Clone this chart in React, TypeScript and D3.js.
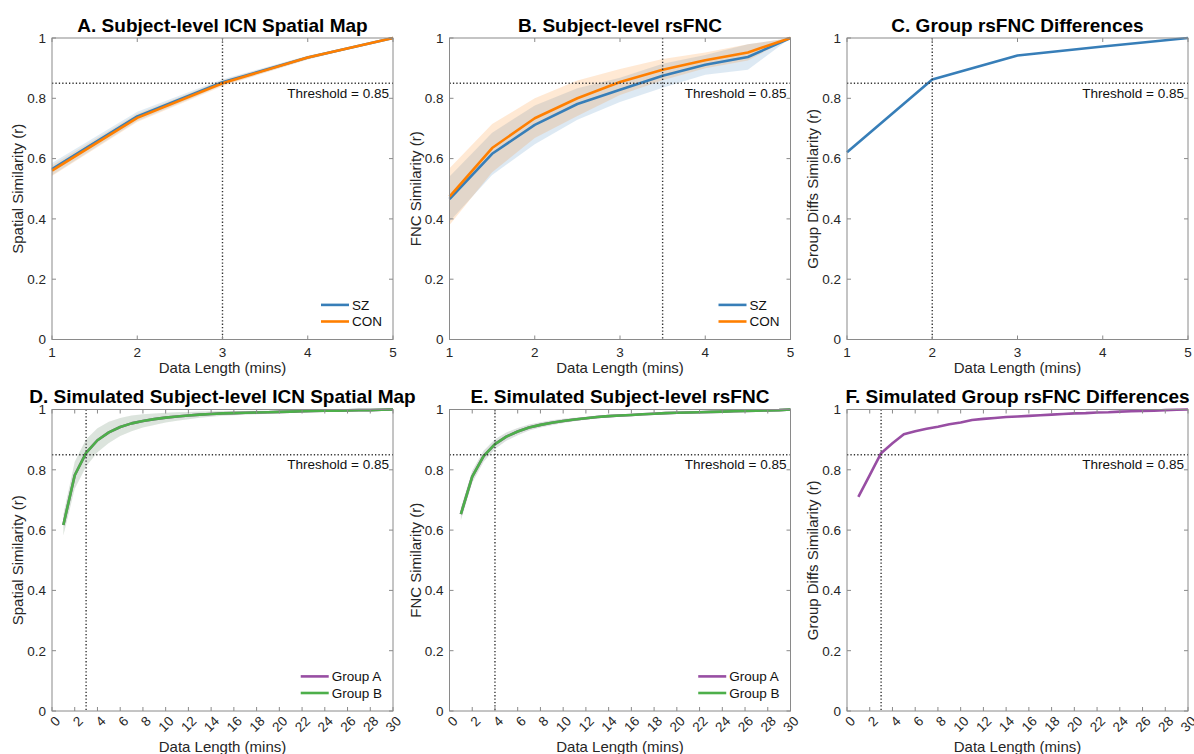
import React from "react";
import * as d3 from "d3";

// ---------- data ----------
const topX = [1, 2, 3, 4, 5];
const topTicks = [1, 2, 3, 4, 5];
const bX = [1, 1.5, 2, 2.5, 3, 3.5, 4, 4.5, 5];
const yTicks = [0, 0.2, 0.4, 0.6, 0.8, 1];
const simX = [1, 2, 3, 4, 5, 6, 7, 8, 9, 10, 11, 12, 13, 14, 15, 16, 17, 18, 19, 20, 21, 22, 23, 24, 25, 26, 27, 28, 29, 30];
const simTicks = [0, 2, 4, 6, 8, 10, 12, 14, 16, 18, 20, 22, 24, 26, 28, 30];

const aSZ = [0.565, 0.74, 0.853, 0.935, 1.0];
const aSZsd = [0.02, 0.015, 0.01, 0.006, 0];
const aCON = [0.56, 0.735, 0.85, 0.935, 1.0];
const aCONsd = [0.018, 0.014, 0.01, 0.006, 0];

const bSZ = [0.466, 0.616, 0.712, 0.781, 0.828, 0.875, 0.911, 0.937, 1.0];
const bSZsd = [0.075, 0.07, 0.064, 0.052, 0.04, 0.04, 0.033, 0.042, 0];
const bCON = [0.474, 0.635, 0.734, 0.8, 0.854, 0.895, 0.926, 0.952, 1.0];
const bCONsd = [0.094, 0.08, 0.066, 0.059, 0.043, 0.035, 0.026, 0.027, 0];

const cDiff = [0.621, 0.862, 0.942, 0.972, 1.0];

const dGroupA = [0.617, 0.782, 0.856, 0.898, 0.924, 0.942, 0.954, 0.962, 0.968, 0.973, 0.977, 0.98, 0.983, 0.985, 0.987, 0.988, 0.989, 0.99, 0.991, 0.992, 0.993, 0.994, 0.995, 0.996, 0.996, 0.997, 0.998, 0.998, 0.999, 1.0];
const dGroupB = [0.617, 0.782, 0.856, 0.898, 0.924, 0.942, 0.954, 0.962, 0.968, 0.973, 0.977, 0.98, 0.983, 0.985, 0.987, 0.988, 0.989, 0.99, 0.991, 0.992, 0.993, 0.994, 0.995, 0.996, 0.996, 0.997, 0.998, 0.998, 0.999, 1.0];
const dSD = [0.035, 0.045, 0.045, 0.04, 0.035, 0.03, 0.026, 0.022, 0.019, 0.016, 0.014, 0.012, 0.01, 0.009, 0.008, 0.007, 0.006, 0.006, 0.005, 0.005, 0.004, 0.004, 0.003, 0.003, 0.002, 0.002, 0.002, 0.001, 0.001, 0];

const eGroupA = [0.653, 0.777, 0.845, 0.885, 0.91, 0.927, 0.94, 0.949, 0.956, 0.962, 0.967, 0.971, 0.975, 0.978, 0.98, 0.982, 0.984, 0.986, 0.988, 0.989, 0.99, 0.991, 0.992, 0.993, 0.994, 0.995, 0.996, 0.997, 0.998, 1.0];
const eGroupB = [0.653, 0.777, 0.845, 0.885, 0.91, 0.927, 0.94, 0.949, 0.956, 0.962, 0.967, 0.971, 0.975, 0.978, 0.98, 0.982, 0.984, 0.986, 0.988, 0.989, 0.99, 0.991, 0.992, 0.993, 0.994, 0.995, 0.996, 0.997, 0.998, 1.0];
const eSD = [0.02, 0.02, 0.018, 0.016, 0.014, 0.012, 0.01, 0.009, 0.008, 0.007, 0.006, 0.005, 0.005, 0.004, 0.004, 0.003, 0.003, 0.003, 0.002, 0.002, 0.002, 0.002, 0.001, 0.001, 0.001, 0.001, 0.001, 0.001, 0, 0];

const fDiff = [0.71, 0.782, 0.855, 0.888, 0.918, 0.928, 0.936, 0.943, 0.951, 0.957, 0.965, 0.969, 0.972, 0.975, 0.977, 0.979, 0.981, 0.983, 0.985, 0.987, 0.988, 0.99, 0.991, 0.993, 0.994, 0.995, 0.996, 0.998, 0.999, 1.0];

const THRESH = 0.85;
const BLUE = "#377eb8";
const ORANGE = "#ff7f00";
const GREEN = "#4daf4a";
const PURPLE = "#984ea3";

const FONT = "'Liberation Sans', Arial, Helvetica, sans-serif";
const TXT = "#262626";
const AX = "#8a8a8a";

type Series = { x: number[]; y: number[]; sd?: number[]; color: string; op?: number };

let measureCtx: CanvasRenderingContext2D | null = null;
function textWidth(s: string, size: number) {
  if (!measureCtx) {
    const c = document.createElement("canvas");
    measureCtx = c.getContext("2d");
  }
  if (!measureCtx) return s.length * size * 0.6;
  measureCtx.font = `${size}px ${FONT}`;
  return measureCtx.measureText(s).width;
}

function Panel(props: {
  left: number;
  top: number;
  width: number;
  height: number;
  title: string;
  ylabel: string;
  xdomain: [number, number];
  xticks: number[];
  rotated: boolean;
  series: Series[];
  vline: number;
  legend?: { label: string; color: string }[];
}) {
  const { left, top, width, height, title, ylabel, xdomain, xticks, rotated, series, vline, legend } = props;
  const x = d3.scaleLinear().domain(xdomain).range([left, left + width]);
  const y = d3.scaleLinear().domain([0, 1]).range([top + height, top]);
  const bottom = top + height;
  const right = left + width;
  const tl = 4;
  const TICKF = 13.5;

  const legW = legend ? 28 + 3 + Math.max(...legend.map((l) => textWidth(l.label, 13.5))) : 0;
  const legX = right - 11 - legW;
  const legBottomY = bottom - 18;

  return (
    <g>
      {/* bands */}
      {series.map((s, k) =>
        s.sd ? (
          <path
            key={"b" + k}
            d={
              d3
                .area<number>()
                .x((_, i) => x(s.x[i]))
                .y0((v, i) => y(v - (s.sd as number[])[i]))
                .y1((v, i) => y(Math.min(1, v + (s.sd as number[])[i])))(s.y) || ""
            }
            fill={s.color}
            fillOpacity={s.op ?? 0.2}
            stroke="none"
          />
        ) : null
      )}
      {/* lines */}
      {series.map((s, k) => (
        <path
          key={"l" + k}
          d={
            d3
              .line<number>()
              .x((_, i) => x(s.x[i]))
              .y((v) => y(v))(s.y) || ""
          }
          fill="none"
          stroke={s.color}
          strokeWidth={2.6}
          strokeLinejoin="round"
        />
      ))}
      {/* threshold lines */}
      <line x1={left} x2={right} y1={y(THRESH)} y2={y(THRESH)} stroke="#333" strokeWidth={1.4} strokeDasharray="1.3,2.1" />
      <line x1={x(vline)} x2={x(vline)} y1={top} y2={bottom} stroke="#333" strokeWidth={1.4} strokeDasharray="1.3,2.1" />
      <text x={right - 4} y={y(THRESH) + 14.5} textAnchor="end" fontSize={13.5} fill="#111" fontFamily={FONT}>
        Threshold = 0.85
      </text>
      {/* box */}
      <rect x={left} y={top} width={width} height={height} fill="none" stroke={AX} strokeWidth={1} />
      {/* x ticks */}
      {xticks.map((t) => (
        <g key={"xt" + t}>
          <line x1={x(t)} x2={x(t)} y1={bottom} y2={bottom - tl} stroke={AX} />
          <line x1={x(t)} x2={x(t)} y1={top} y2={top + tl} stroke={AX} />
          {rotated ? (
            <text
              transform={`translate(${x(t) + 9},${bottom + 11}) rotate(-45)`}
              textAnchor="end"
              fontSize={TICKF}
              fill={TXT}
              fontFamily={FONT}
            >
              {String(t)}
            </text>
          ) : (
            <text x={x(t)} y={bottom + 17} textAnchor="middle" fontSize={TICKF} fill={TXT} fontFamily={FONT}>
              {String(t)}
            </text>
          )}
        </g>
      ))}
      {/* y ticks */}
      {yTicks.map((t) => (
        <g key={"yt" + t}>
          <line x1={left} x2={left + tl} y1={y(t)} y2={y(t)} stroke={AX} />
          <line x1={right} x2={right - tl} y1={y(t)} y2={y(t)} stroke={AX} />
          <text x={left - 6} y={y(t)} dy="0.36em" textAnchor="end" fontSize={TICKF} fill={TXT} fontFamily={FONT}>
            {String(t)}
          </text>
        </g>
      ))}
      {/* labels */}
      <text
        x={(left + right) / 2}
        y={rotated ? bottom + 41 : bottom + 33}
        textAnchor="middle"
        fontSize={15}
        fill={TXT}
        fontFamily={FONT}
      >
        Data Length (mins)
      </text>
      <text
        transform={`translate(${left - 34},${(top + bottom) / 2}) rotate(-90)`}
        textAnchor="middle"
        dy="0.35em"
        fontSize={15}
        fill={TXT}
        fontFamily={FONT}
      >
        {ylabel}
      </text>
      <text x={(left + right) / 2} y={top - 6.5} textAnchor="middle" fontSize={19} fontWeight="bold" fill="#000" fontFamily={FONT}>
        {title}
      </text>
      {/* legend */}
      {legend
        ? legend.map((l, i) => {
            const ly = legBottomY - (legend.length - 1 - i) * 16.6;
            return (
              <g key={"lg" + i}>
                <line x1={legX} x2={legX + 28} y1={ly} y2={ly} stroke={l.color} strokeWidth={2.6} />
                <text x={legX + 31} y={ly} dy="0.36em" fontSize={13.5} fill="#111" fontFamily={FONT}>
                  {l.label}
                </text>
              </g>
            );
          })
        : null}
    </g>
  );
}

export default function App() {
  const lefts = [52, 449.5, 847];
  const W = 341;
  const H = 301.5;
  const tops = [38, 409.5];
  return (
    <div style={{ position: "absolute", left: 0, top: 0, width: 1194, height: 754, background: "#fff" }}>
      <svg width={1194} height={754} style={{ display: "block" }}>
        <rect width={1194} height={754} fill="#fff" />
        <Panel
          left={lefts[0]}
          top={tops[0]}
          width={W}
          height={H}
          title="A. Subject-level ICN Spatial Map"
          ylabel="Spatial Similarity (r)"
          xdomain={[1, 5]}
          xticks={topTicks}
          rotated={false}
          vline={3}
          series={[
            { x: topX, y: aSZ, sd: aSZsd, color: BLUE, op: 0.15 },
            { x: topX, y: aCON, sd: aCONsd, color: ORANGE, op: 0.15 },
          ]}
          legend={[
            { label: "SZ", color: BLUE },
            { label: "CON", color: ORANGE },
          ]}
        />
        <Panel
          left={lefts[1]}
          top={tops[0]}
          width={W}
          height={H}
          title="B. Subject-level rsFNC"
          ylabel="FNC Similarity (r)"
          xdomain={[1, 5]}
          xticks={topTicks}
          rotated={false}
          vline={3.5}
          series={[
            { x: bX, y: bSZ, sd: bSZsd, color: BLUE, op: 0.17 },
            { x: bX, y: bCON, sd: bCONsd, color: ORANGE, op: 0.17 },
          ]}
          legend={[
            { label: "SZ", color: BLUE },
            { label: "CON", color: ORANGE },
          ]}
        />
        <Panel
          left={lefts[2]}
          top={tops[0]}
          width={W}
          height={H}
          title="C. Group rsFNC Differences"
          ylabel="Group Diffs Similarity (r)"
          xdomain={[1, 5]}
          xticks={topTicks}
          rotated={false}
          vline={2}
          series={[{ x: topX, y: cDiff, color: BLUE }]}
        />
        <Panel
          left={lefts[0]}
          top={tops[1]}
          width={W}
          height={H}
          title="D. Simulated Subject-level ICN Spatial Map"
          ylabel="Spatial Similarity (r)"
          xdomain={[0, 30]}
          xticks={simTicks}
          rotated={true}
          vline={3}
          series={[
            { x: simX, y: dGroupA, sd: dSD, color: PURPLE, op: 0.1 },
            { x: simX, y: dGroupB, sd: dSD, color: GREEN, op: 0.14 },
          ]}
          legend={[
            { label: "Group A", color: PURPLE },
            { label: "Group B", color: GREEN },
          ]}
        />
        <Panel
          left={lefts[1]}
          top={tops[1]}
          width={W}
          height={H}
          title="E. Simulated Subject-level rsFNC"
          ylabel="FNC Similarity (r)"
          xdomain={[0, 30]}
          xticks={simTicks}
          rotated={true}
          vline={4}
          series={[
            { x: simX, y: eGroupA, sd: eSD, color: PURPLE, op: 0.12 },
            { x: simX, y: eGroupB, sd: eSD, color: GREEN, op: 0.12 },
          ]}
          legend={[
            { label: "Group A", color: PURPLE },
            { label: "Group B", color: GREEN },
          ]}
        />
        <Panel
          left={lefts[2]}
          top={tops[1]}
          width={W}
          height={H}
          title="F. Simulated Group rsFNC Differences"
          ylabel="Group Diffs Similarity (r)"
          xdomain={[0, 30]}
          xticks={simTicks}
          rotated={true}
          vline={3}
          series={[{ x: simX, y: fDiff, color: PURPLE }]}
        />
      </svg>
    </div>
  );
}
